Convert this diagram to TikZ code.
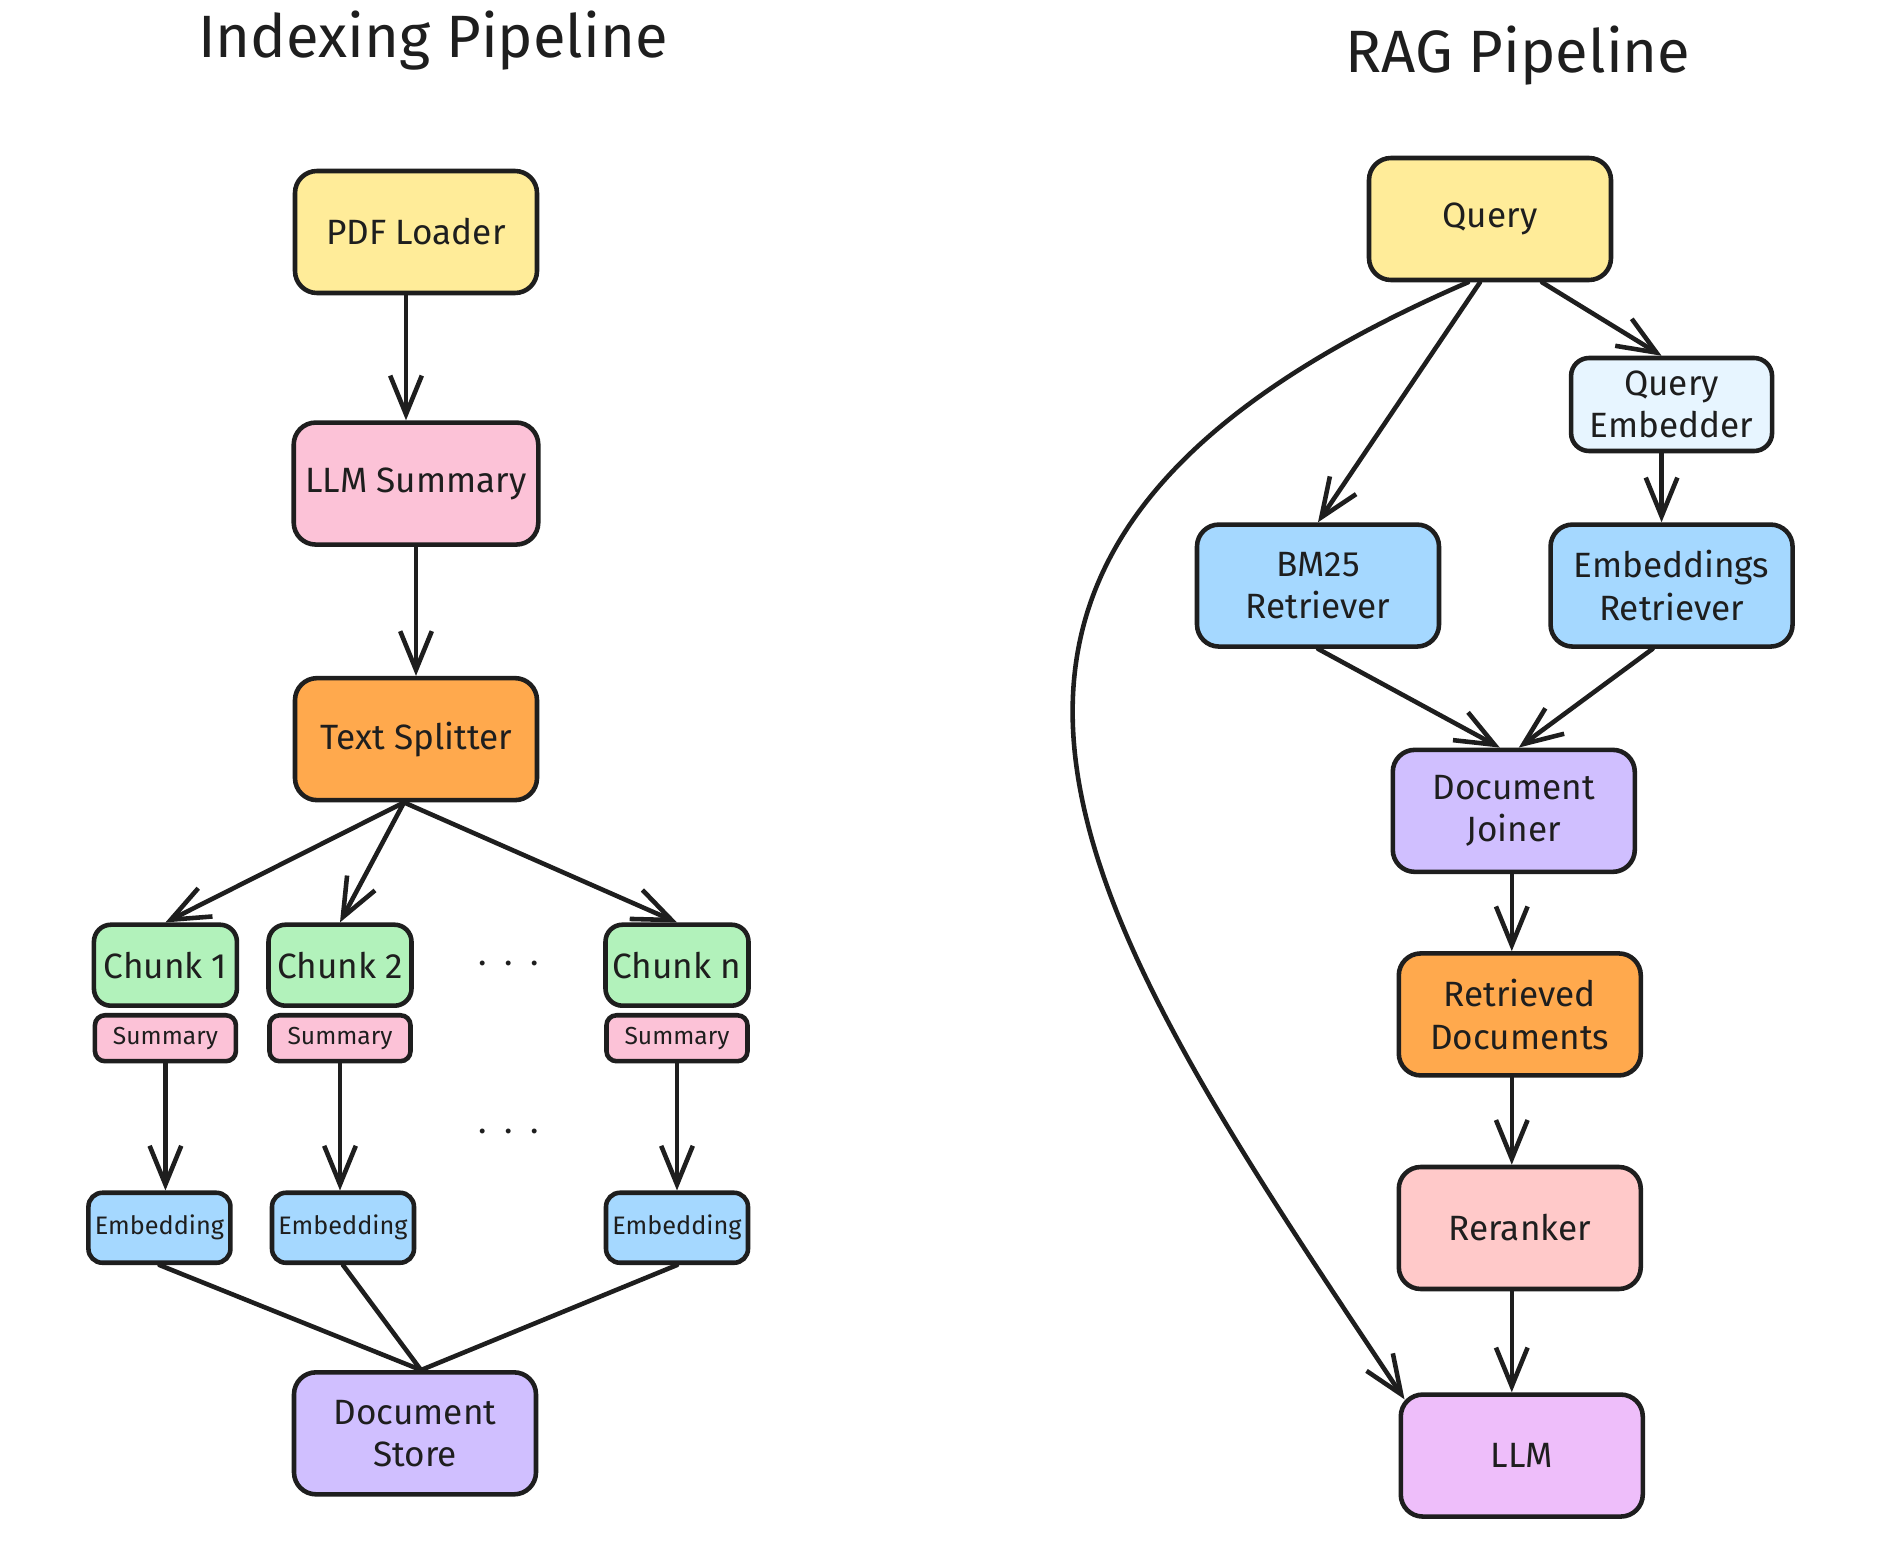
\documentclass[tikz,border=0pt]{standalone}
\usepackage{fontspec}
\setmainfont{Fira Sans}
\usetikzlibrary{positioning,calc,arrows.meta}
\definecolor{ink}{HTML}{1E1E1E}
\definecolor{ylw}{HTML}{FFEC99}
\definecolor{pnk}{HTML}{FCC2D7}
\definecolor{org}{HTML}{FFA94D}
\definecolor{grn}{HTML}{B2F2BB}
\definecolor{blu}{HTML}{A5D8FF}
\definecolor{lblu}{HTML}{E7F5FF}
\definecolor{vio}{HTML}{D0BFFF}
\definecolor{rrk}{HTML}{FFC9C9}
\definecolor{grp}{HTML}{EEBEFA}

\begin{document}
\begin{tikzpicture}[every node/.style={node distance=1cm, rectangle, text=ink, font=\fontsize{10}{12}\selectfont},
    bigbox/.style={draw=ink, line width=1.3pt, rounded corners=0.22cm, minimum width=2.42cm, minimum height=1.22cm, align=center},
    chunkbox/.style={bigbox, fill=grn, minimum width=1.43cm, minimum height=0.81cm, rounded corners=0.17cm, inner xsep=1pt},
    sumbox/.style={bigbox, fill=pnk, minimum width=1.41cm, minimum height=0.44cm, rounded corners=0.1cm, inner xsep=1pt, font=\fontsize{7}{8}\selectfont},
    embbox/.style={bigbox, fill=blu, minimum width=1.42cm, minimum height=0.70cm, rounded corners=0.14cm, inner xsep=1pt, font=\fontsize{7.2}{8}\selectfont},
    arr/.style={draw=ink, line width=1.3pt, line cap=round, -{Straight Barb[length=11pt,width=9pt]}},
    link/.style={draw=ink, line width=1.3pt, line cap=round},
    title/.style={font=\fontsize{17}{20}\selectfont, anchor=base}]

    \path[use as bounding box, fill=white] (0,0) rectangle (18.84,-15.50);

    \node[title] (ttlidx) at (4.33,-0.58) {Indexing Pipeline};
    \node[title] (ttlrag) at (15.18,-0.72) {RAG Pipeline};

    % indexing
    \node[bigbox, fill=ylw] (pdf) at (4.16,-2.32) {PDF Loader};
    \node[bigbox, fill=pnk, below=1.25cm of pdf] (llmsum) {LLM Summary};
    \node[bigbox, fill=org, below=1.29cm of llmsum] (split) {Text Splitter};

    \node[chunkbox, below=1.20cm of split, xshift=-0.76cm] (c2) {Chunk 2};
    \node[chunkbox, left=0.27cm of c2] (c1) {Chunk 1};
    \node[chunkbox, below=1.20cm of split, xshift=2.61cm] (cn) {Chunk n};
    \node[anchor=base] (dots1) at ($(c2)!0.5!(cn)$) {.\hspace{5pt}.\hspace{5pt}.};

    \node[sumbox, below=0.05cm of c1] (s1) {Summary};
    \node[sumbox, below=0.05cm of c2] (s2) {Summary};
    \node[sumbox, below=0.05cm of cn] (sn) {Summary};

    \node[embbox, below=1.27cm of s1, xshift=-0.06cm] (e1) {Embedding};
    \node[embbox, below=1.27cm of s2, xshift=0.03cm] (e2) {Embedding};
    \node[embbox, below=1.27cm of sn] (en) {Embedding};
    \node[anchor=base] (dots2) at ($(s2)!0.5!(en)$) {.\hspace{5pt}.\hspace{5pt}.};

    \node[bigbox, fill=vio, below=1.05cm of e2, xshift=0.72cm] (store) {Document\\Store};

    \coordinate (splitout) at ([xshift=-0.12cm]split.south);
    \coordinate (storein) at ([xshift=0.06cm]store.north);

    \draw[arr] ([xshift=-0.1cm]pdf.south) -- ([xshift=-0.1cm]pdf.south |- llmsum.north);
    \draw[arr] (llmsum.south) -- (llmsum.south |- split.north);
    \draw[arr] (splitout) -- (c1.north);
    \draw[arr] (splitout) -- (c2.north);
    \draw[arr] (splitout) -- (cn.north);
    \draw[arr] (s1.south) -- (s1.south |- e1.north);
    \draw[arr] (s2.south) -- (s2.south |- e2.north);
    \draw[arr] (sn.south) -- (sn.south |- en.north);
    \draw[link] (e1.south) -- (storein);
    \draw[link] (e2.south) -- (storein);
    \draw[link] (en.south) -- (storein);

    % rag
    \node[bigbox, fill=ylw] (query) at (14.90,-2.19) {Query};
    \node[bigbox, fill=blu, below=2.40cm of query, xshift=-1.72cm] (bm) {BM25\\Retriever};
    \node[bigbox, fill=blu, right=1.07cm of bm] (eret) {Embeddings\\Retriever};
    \node[bigbox, fill=lblu, above=0.69cm of eret, minimum width=2.01cm, minimum height=0.93cm, rounded corners=0.18cm] (qemb) {Query\\Embedder};
    \node[bigbox, fill=vio, below=1.62cm of $(bm)!0.5!(eret)$, xshift=0.19cm] (join) {Document\\Joiner};
    \node[bigbox, fill=org, below=0.77cm of join, xshift=0.06cm] (docs) {Retrieved\\Documents};
    \node[bigbox, fill=rrk, below=0.87cm of docs] (rerank) {Reranker};
    \node[bigbox, fill=grp, below=1.01cm of rerank, xshift=0.02cm] (llm) {LLM};

    \draw[arr] ([xshift=-0.1cm]query.south) -- (bm.north);
    \draw[arr] ([xshift=0.52cm]query.south) -- ([xshift=-0.1cm]qemb.north);
    \draw[arr] ([xshift=-0.1cm]qemb.south) -- ([xshift=-0.1cm]qemb.south |- eret.north);
    \draw[arr] (bm.south) -- ([xshift=-0.14cm]join.north);
    \draw[arr] ([xshift=-0.19cm]eret.south) -- ([xshift=0.05cm]join.north);
    \draw[arr] ([xshift=-0.02cm]join.south) -- ([xshift=-0.02cm]join.south |- docs.north);
    \draw[arr] ([xshift=-0.08cm]docs.south) -- ([xshift=-0.08cm]docs.south |- rerank.north);
    \draw[arr] ([xshift=-0.08cm]rerank.south) -- ([xshift=-0.08cm]rerank.south |- llm.north);
    \draw[arr] ([xshift=-0.22cm]query.south) .. controls +(-6.35,-2.75) and +(-3.25,4.87) .. ([shift={(0.06,-0.07)}]llm.north west);
\end{tikzpicture}
\end{document}
